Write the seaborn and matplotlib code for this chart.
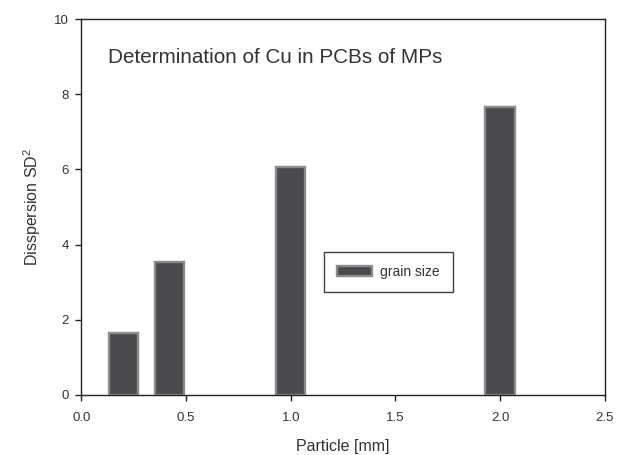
import numpy as np
import pandas as pd
import matplotlib
matplotlib.use('Agg')
import matplotlib.pyplot as plt
import seaborn as sns

# values
particle = [0.2, 0.42, 1.0, 2.0]           # particle size [mm]
dispersion = [1.66, 3.54, 6.06, 7.67]      # SD^2
series_label = 'grain size'
title_text = 'Determination of Cu in PCBs of MPs'
x_ticks = [0.0, 0.5, 1.0, 1.5, 2.0, 2.5]
y_ticks = [0, 2, 4, 6, 8, 10]

df = pd.DataFrame({'Particle': particle, 'Dispersion': dispersion})

sns.set_style('ticks')
plt.rcParams['font.family'] = ['Liberation Sans', 'DejaVu Sans']
plt.rcParams['mathtext.fontset'] = 'custom'
plt.rcParams['mathtext.rm'] = 'Liberation Sans'

fig = plt.figure(figsize=(6.24, 4.55), dpi=100)
ax = fig.add_axes([0.1305, 0.132, 0.8385, 0.826])

bar_w = 0.14
unit = np.diff(sorted(particle)).min()
sns.barplot(data=df, x='Particle', y='Dispersion', native_scale=True,
            width=bar_w / unit, color='#4a4a4e', saturation=1,
            edgecolor='#8a8a8a', linewidth=1.7, label=series_label, ax=ax)

ax.set_xlim(0, 2.5)
ax.set_ylim(0, 10)
ax.set_xticks(x_ticks)
ax.set_xticklabels([f'{t:.1f}' for t in x_ticks])
ax.set_yticks(y_ticks)
ax.tick_params(axis='both', direction='out', length=4, width=1, colors='#222222',
               labelsize=9.5, labelcolor='#333333')
ax.tick_params(axis='x', pad=8)
ax.tick_params(axis='y', pad=5)

for s in ax.spines.values():
    s.set_color('#222222')
    s.set_linewidth(1)

ax.set_xlabel('Particle [mm]', fontsize=11.5, color='#333333', labelpad=11)
ax.set_ylabel('Disspersion SD$^2$', fontsize=11.5, color='#333333', labelpad=8)

ax.text(0.051, 0.897, title_text, transform=ax.transAxes, fontsize=14.9,
        color='#333333', ha='left', va='center')

leg = ax.legend(loc='lower left', bbox_to_anchor=(0.464, 0.274), frameon=True,
                fancybox=False, edgecolor='#111111', fontsize=10,
                handlelength=2.5, handleheight=0.7, borderpad=0.95,
                handletextpad=0.55, borderaxespad=0)
leg.get_frame().set_linewidth(1)
for t in leg.get_texts():
    t.set_color('#333333')

fig.savefig('out.png', dpi=100)
